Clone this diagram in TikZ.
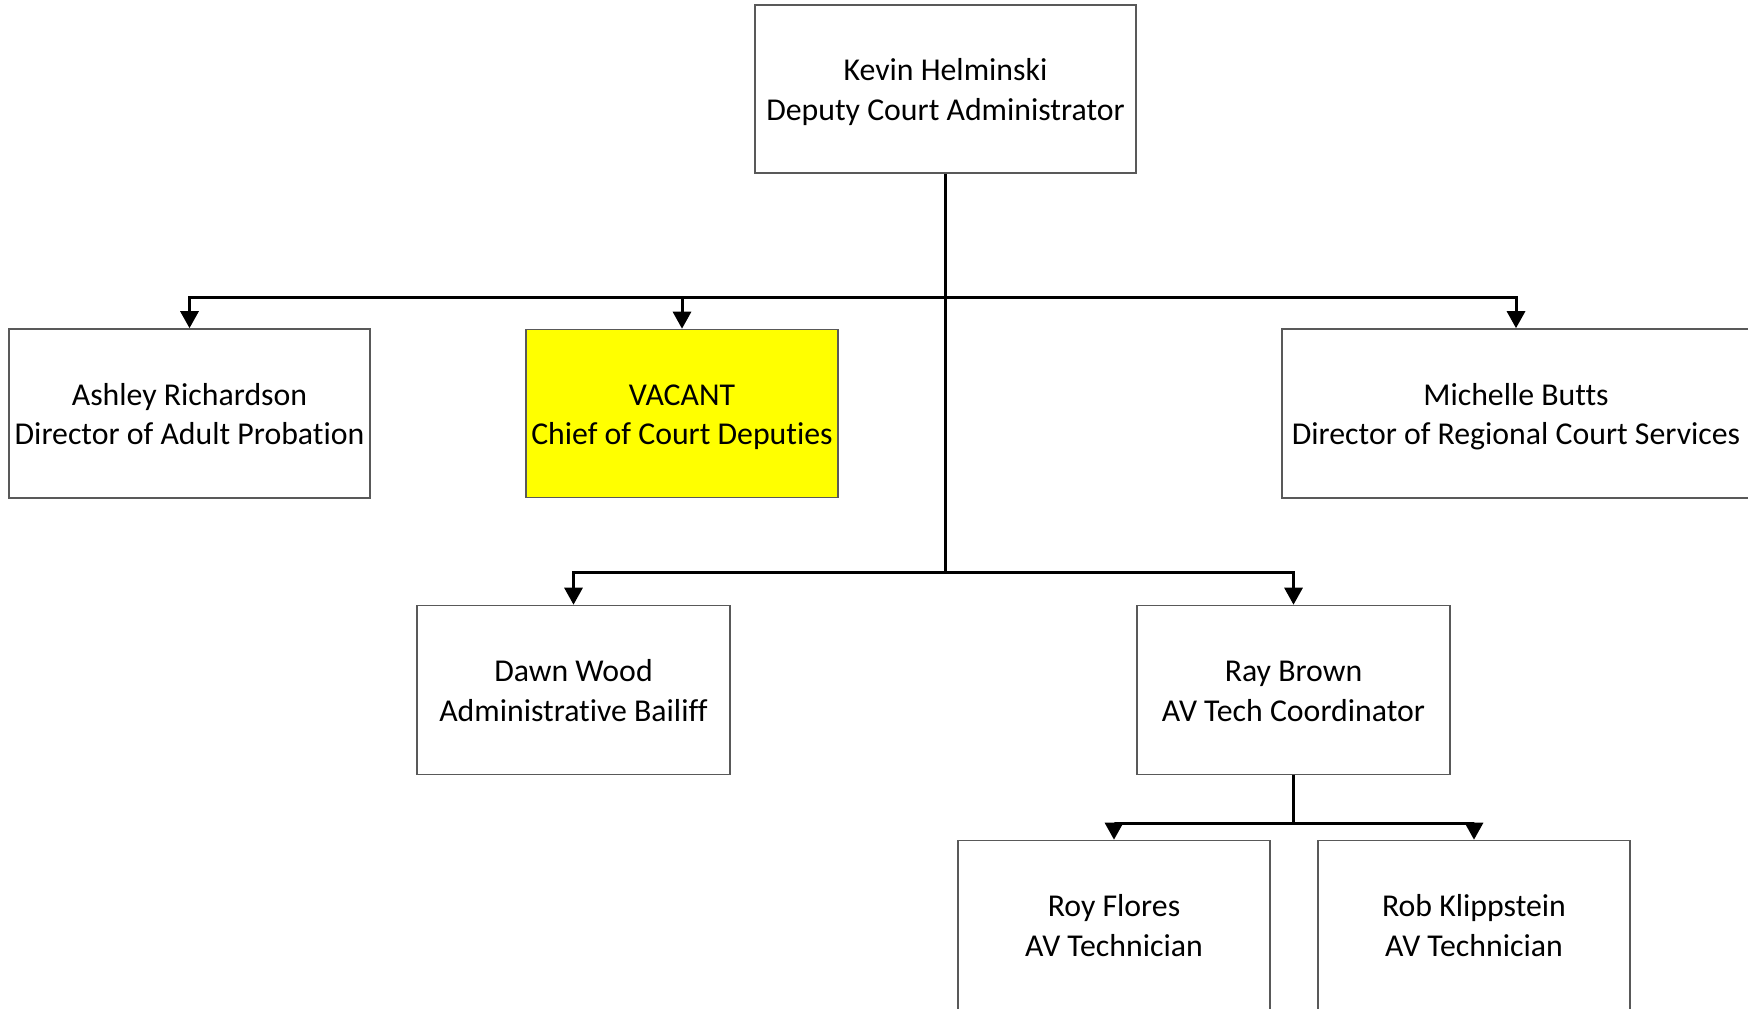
\documentclass[tikz,border=0pt]{standalone}
\usepackage{fontspec}
\setmainfont{Carlito}[Ligatures=NoCommon]
\usetikzlibrary{arrows.meta}
\definecolor{vacyellow}{RGB}{255,255,0}
\newcommand{\twolines}[2]{\rule{0pt}{17.3pt}#1\\\strut #2}
\begin{document}
\begin{tikzpicture}[x=0.5pt,y=-0.5pt,
  box/.style={draw=black!65,line width=0.8pt,inner sep=0pt,align=center,
    font=\fontsize{15.9}{19.7}\selectfont},
  conn/.style={line width=1.5pt,black},
  arr/.style={conn,-{Triangle[width=9pt,length=8.5pt]}}]
\useasboundingbox (0,0) rectangle (1748,1008);
\node[box,minimum width=190.5pt,minimum height=84pt] (top) at (945.5,89) {\twolines{Kevin Helminski}{Deputy Court Administrator}};
\node[box,minimum width=180.5pt,minimum height=84.5pt] (ash) at (189.5,413.5) {\twolines{Ashley Richardson}{Director of Adult Probation}};
\node[box,fill=vacyellow,minimum width=156pt,minimum height=84pt] (vac) at (682,413.5) {\twolines{VACANT}{Chief of Court Deputies}};
\node[box,minimum width=234pt,minimum height=84.5pt] (mich) at (1516,413.5) {\twolines{Michelle Butts}{Director of Regional Court Services}};
\node[box,minimum width=156.5pt,minimum height=84.5pt] (dawn) at (573.5,690) {\twolines{Dawn Wood}{Administrative Bailiff}};
\node[box,minimum width=156.5pt,minimum height=84.5pt] (ray) at (1293.5,690) {\twolines{Ray Brown}{AV Tech Coordinator}};
\node[box,minimum width=156pt,minimum height=84.5pt] (roy) at (1114,925) {\twolines{Roy Flores}{AV Technician}};
\node[box,minimum width=156pt,minimum height=84.5pt] (rob) at (1474,925) {\twolines{Rob Klippstein}{AV Technician}};
\coordinate (j1) at (945.5,297);
\coordinate (j2) at (945.5,572.5);
\coordinate (j3) at (1293.5,823.5);
\draw[conn] (top.south) -- (j2);
\draw[arr] (j1) -| (ash.north);
\draw[arr] (j1) -| (vac.north);
\draw[arr] (j1) -| (mich.north);
\draw[arr] (j2) -| (dawn.north);
\draw[arr] (j2) -| (ray.north);
\draw[conn] (ray.south) -- (j3);
\draw[arr] (j3) -| (roy.north);
\draw[arr] (j3) -| (rob.north);
\end{tikzpicture}
\end{document}
